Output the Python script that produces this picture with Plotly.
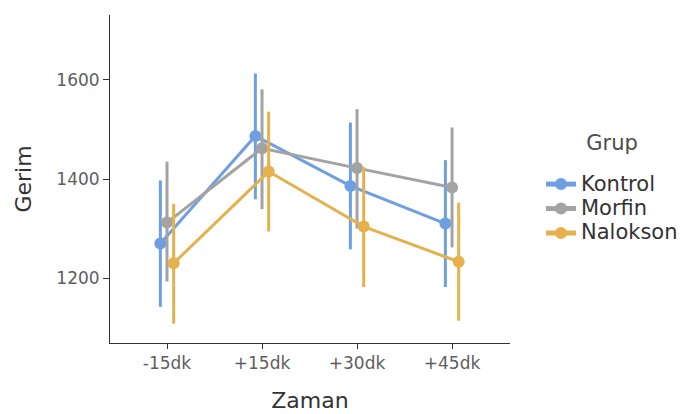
import plotly.graph_objects as go

zaman = ["-15dk", "+15dk", "+30dk", "+45dk"]
gruplar = ["Kontrol", "Morfin", "Nalokson"]

kontrol_mean = [1270, 1487, 1386, 1310]
kontrol_low = [1142, 1359, 1258, 1182]
kontrol_high = [1397, 1613, 1514, 1438]

morfin_mean = [1312, 1462, 1422, 1383]
morfin_low = [1193, 1339, 1300, 1262]
morfin_high = [1435, 1581, 1541, 1504]

nalokson_mean = [1230, 1415, 1304, 1233]
nalokson_low = [1108, 1294, 1182, 1114]
nalokson_high = [1350, 1536, 1424, 1352]

series = [
    (gruplar[0], kontrol_mean, kontrol_low, kontrol_high, "#6f9fe3", -0.07),
    (gruplar[1], morfin_mean, morfin_low, morfin_high, "#a3a3a3", 0.0),
    (gruplar[2], nalokson_mean, nalokson_low, nalokson_high, "#e5b14d", 0.07),
]

fig = go.Figure()
for name, m, lo, hi, col, off in series:
    xs = [i + off for i in range(len(zaman))]
    fig.add_trace(go.Scatter(
        x=xs, y=m, name='<span style="font-size:21px">' + name + '</span>',
        mode="lines+markers",
        line=dict(color=col, width=3),
        marker=dict(color=col, size=12),
        error_y=dict(type="data", symmetric=False,
                     array=[h - v for h, v in zip(hi, m)],
                     arrayminus=[v - l for v, l in zip(m, lo)],
                     color=col, thickness=3, width=0),
    ))

fig.update_layout(
    width=697, height=414,
    margin=dict(l=102, r=195, t=7, b=79),
    paper_bgcolor="white", plot_bgcolor="white",
    font=dict(family="DejaVu Sans", color="#4d4d4d"),
    legend=dict(
        title=dict(text='<span style="font-size:21px">Grup</span><br> ', side="top center",
                   font=dict(size=13, color="#4d4d4d")),
        font=dict(size=16.5, color="#333333"),
        x=1.0775, y=0.64, xanchor="left", yanchor="top",
        tracegroupgap=0, itemsizing="constant",
    ),
    xaxis=dict(
        range=[-0.6, 3.61],
        tickmode="array", tickvals=list(range(len(zaman))), ticktext=zaman,
        showgrid=False, zeroline=False,
        showline=True, linecolor="#333333", linewidth=1,
        ticks="outside", ticklen=5, tickcolor="#333333",
        tickfont=dict(size=17, color="#5e5e5e"),
        title=dict(text="Zaman", font=dict(size=22, color="#333333"), standoff=20),
    ),
    yaxis=dict(
        range=[1069, 1731],
        tickvals=[1200, 1400, 1600],
        showgrid=False, zeroline=False,
        showline=True, linecolor="#333333", linewidth=1,
        ticks="outside", ticklen=6, tickcolor="#333333",
        tickfont=dict(size=17, color="#5e5e5e"),
        title=dict(text="Gerim", font=dict(size=22, color="#333333"), standoff=18),
    ),
)

fig.write_html("out.html")
